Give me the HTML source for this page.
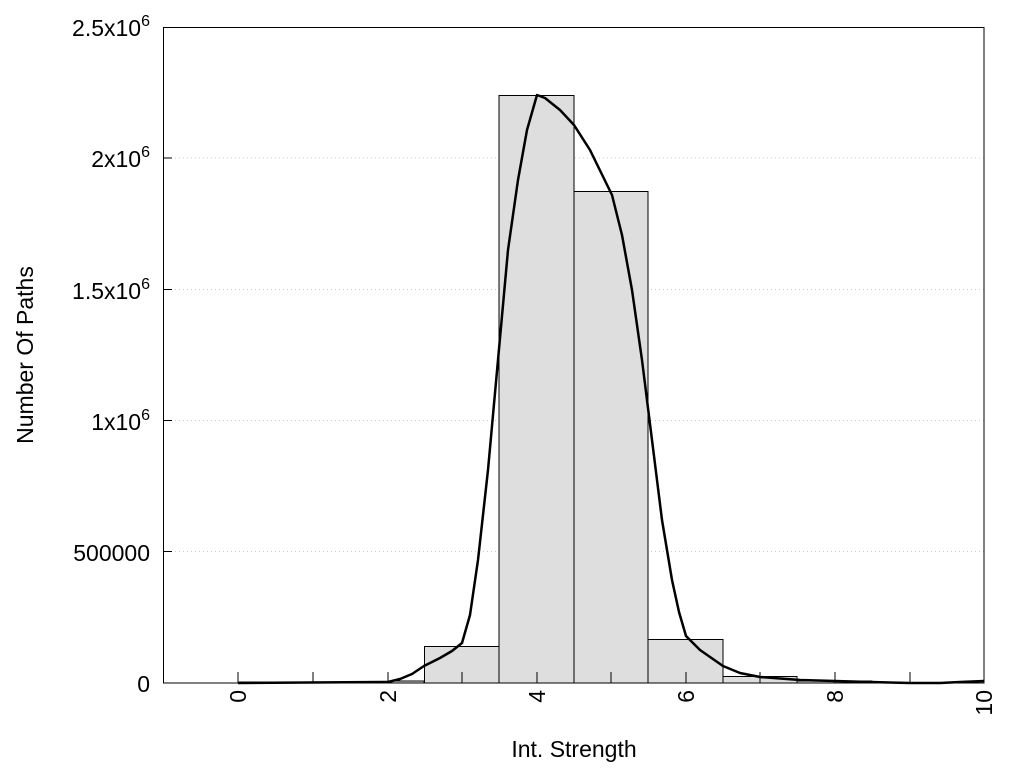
<!DOCTYPE html>
<html><head><meta charset="utf-8"><style>body{margin:0;background:#fff}svg{display:block}text{font-family:"Liberation Sans",sans-serif;fill:#000}</style></head><body>
<svg width="1024" height="768" viewBox="0 0 1024 768">
<g stroke="#ccc" stroke-dasharray="1,3" stroke-width="1">
<line x1="163" y1="158" x2="984" y2="158"/><line x1="163" y1="289.5" x2="984" y2="289.5"/><line x1="163" y1="420.5" x2="984" y2="420.5"/><line x1="163" y1="551.5" x2="984" y2="551.5"/>
</g>
<g fill="#dedede" stroke="#000" stroke-width="1">
<rect x="238" y="682" width="75" height="1"/>
<rect x="313" y="682" width="75" height="1"/>
<rect x="388" y="681" width="36" height="2"/>
<rect x="424.5" y="646.5" width="74.5" height="36.5"/>
<rect x="499" y="95.5" width="75" height="587.5"/>
<rect x="574" y="191.5" width="74" height="491.5"/>
<rect x="648" y="639.5" width="75" height="43.5"/>
<rect x="723" y="676.5" width="74" height="6.5"/>
<rect x="797" y="681" width="75" height="2"/>
</g>
<g stroke="#000" stroke-width="1">
<line x1="238" y1="683" x2="238" y2="672"/><line x1="313" y1="683" x2="313" y2="672"/><line x1="388" y1="683" x2="388" y2="672"/><line x1="462" y1="683" x2="462" y2="672"/><line x1="537" y1="683" x2="537" y2="672"/><line x1="611" y1="683" x2="611" y2="672"/><line x1="686" y1="683" x2="686" y2="672"/><line x1="760" y1="683" x2="760" y2="672"/><line x1="835" y1="683" x2="835" y2="672"/><line x1="910" y1="683" x2="910" y2="672"/>
<line x1="163" y1="158" x2="172" y2="158"/><line x1="163" y1="289.5" x2="172" y2="289.5"/><line x1="163" y1="420.5" x2="172" y2="420.5"/><line x1="163" y1="551.5" x2="172" y2="551.5"/>
</g>
<polyline fill="none" stroke="#000" stroke-width="2.5" stroke-linejoin="round" points="238,683 388,682 400,679 412,674 424,666 440,658 452,651 462,643 470,615 478,560 488,470 498,360 508,250 518,180 527,130 537,95 545,98 560,110 574,125 590,150 612,195 622,235 632,290 642,360 652,440 662,520 672,580 679,612 686,636 700,650 723,666 740,673 760,677 800,680 870,682 910,683 940,683 960,682 984,681"/>
<rect x="163.5" y="27.5" width="820.5" height="655.5" fill="none" stroke="#000" stroke-width="1"/>
<g font-size="23" text-anchor="end">
<text x="150" y="692">0</text>
<text x="150" y="561">500000</text>
<text x="150" y="430">1x10<tspan font-size="16" dy="-10">6</tspan></text>
<text x="150" y="299">1.5x10<tspan font-size="16" dy="-10">6</tspan></text>
<text x="150" y="167">2x10<tspan font-size="16" dy="-10">6</tspan></text>
<text x="150" y="36">2.5x10<tspan font-size="16" dy="-10">6</tspan></text>
</g>
<g font-size="23" text-anchor="end">
<text transform="translate(246,690) rotate(-90)">0</text>
<text transform="translate(396,690) rotate(-90)">2</text>
<text transform="translate(545,690) rotate(-90)">4</text>
<text transform="translate(694,690) rotate(-90)">6</text>
<text transform="translate(843,690) rotate(-90)">8</text>
<text transform="translate(992,690) rotate(-90)">10</text>
</g>
<text x="574" y="757" font-size="23" text-anchor="middle">Int. Strength</text>
<text transform="translate(33,355) rotate(-90)" font-size="23" text-anchor="middle">Number Of Paths</text>
</svg>
</body></html>
